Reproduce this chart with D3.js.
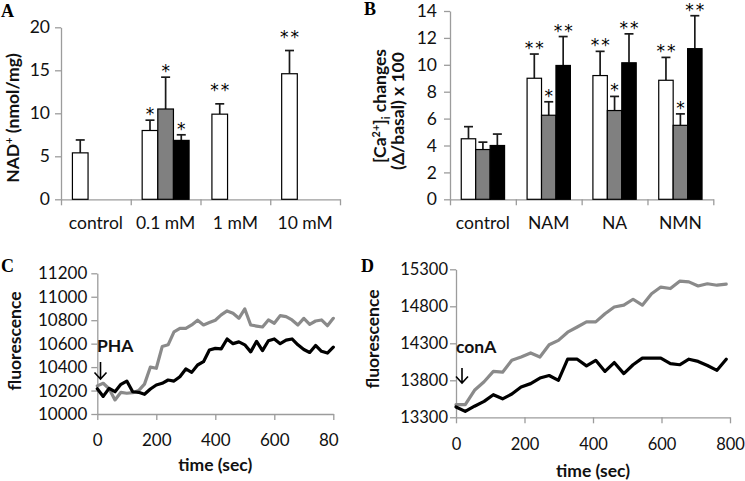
<!DOCTYPE html>
<html>
<head>
<meta charset="utf-8">
<script src="https://cdn.jsdelivr.net/npm/d3@7"></script>
<style>
  body { margin: 0; background: #fff; }
  svg { display: block; }
</style>
</head>
<body>
<svg id="chart" width="745" height="481"></svg>
<script>
// ---------------- DATA ----------------
// Panel A: NAD+ (nmol/mg)
const catsA = ["control", "0.1 mM", "1 mM", "10 mM"];
const aWhite = [5.4, 8.0, 9.9, 14.6];
const aWhiteErr = [1.5, 1.2, 1.2, 2.7];
const aGray = [null, 10.5, null, null];
const aGrayErr = [null, 3.7, null, null];
const aBlack = [null, 6.85, null, null];
const aBlackErr = [null, 0.65, null, null];
const aWhiteSig = ["", "*", "**", "**"];
const aGraySig = ["", "*", "", ""];
const aBlackSig = ["", "*", "", ""];
const aTicks = [0, 5, 10, 15, 20];

// Panel B: [Ca2+]i changes
const catsB = ["control", "NAM", "NA", "NMN"];
const bWhite = [4.5, 9.0, 9.2, 8.85];
const bWhiteErr = [0.9, 1.8, 1.8, 1.7];
const bGray = [3.7, 6.25, 6.6, 5.5];
const bGrayErr = [0.55, 1.0, 1.05, 0.85];
const bBlack = [4.0, 9.95, 10.15, 11.2];
const bBlackErr = [0.85, 2.15, 2.15, 2.45];
const bWhiteSig = ["", "**", "**", "**"];
const bGraySig = ["", "*", "*", "*"];
const bBlackSig = ["", "**", "**", "**"];
const bTicks = [0, 2, 4, 6, 8, 10, 12, 14];

// Panel C: fluorescence, PHA
const timeC = [0, 20, 40, 60, 80, 100, 120, 140, 160, 180, 200, 220, 240, 260, 280, 300, 320, 340, 360, 380,
  400, 420, 440, 460, 480, 500, 520, 540, 560, 580, 600, 620, 640, 660, 680, 700, 720, 740, 760, 780, 800];
const cGray = [10240, 10262, 10215, 10120, 10185, 10177, 10182, 10200, 10255, 10400, 10390, 10575, 10590, 10700,
  10730, 10730, 10760, 10800, 10760, 10780, 10800, 10845, 10879, 10859, 10816, 10896, 10759, 10750, 10742, 10802,
  10774, 10839, 10830, 10802, 10759, 10816, 10765, 10793, 10802, 10753, 10816];
const cBlack = [10215, 10150, 10219, 10190, 10253, 10281, 10190, 10185, 10168, 10213, 10247, 10262, 10290, 10281,
  10318, 10384, 10355, 10418, 10446, 10546, 10560, 10555, 10640, 10600, 10615, 10590, 10530, 10620, 10540, 10625,
  10640, 10600, 10630, 10640, 10590, 10550, 10525, 10585, 10535, 10520, 10570];
const cYTicks = [10000, 10200, 10400, 10600, 10800, 11000, 11200];
const cXTicks = [0, 200, 400, 600, 800];

// Panel D: fluorescence, conA
const timeD = [0, 27, 54, 82, 109, 136, 163, 190, 218, 245, 272, 299, 326, 354, 381, 408, 435, 462, 490, 517,
  544, 571, 598, 626, 653, 680, 707, 734, 762, 789];
const dGray = [13470, 13470, 13665, 13780, 13920, 13910, 14070, 14115, 14170, 14115, 14280, 14340, 14450, 14520,
  14590, 14590, 14700, 14790, 14815, 14895, 14815, 14970, 15060, 15040, 15140, 15130, 15075, 15105, 15085, 15100];
const dBlack = [13440, 13380, 13450, 13515, 13605, 13550, 13615, 13710, 13755, 13830, 13865, 13800, 14085, 14085,
  13995, 14070, 13920, 14040, 13890, 14010, 14100, 14100, 14100, 14025, 14010, 14085, 14055, 14000, 13935, 14085];
const dYTicks = [13300, 13800, 14300, 14800, 15300];
const dXTicks = [0, 200, 400, 600, 800];

// ---------------- DRAWING ----------------
const svg = d3.select("#chart");
const FONT = "Lato, 'Open Sans', 'Liberation Sans', sans-serif";
const STARFONT = "'DejaVu Sans', 'Liberation Sans', sans-serif";
const AXC = "#9c9c9c";
const TXT = "#111";
const TITLEFS = 17.5;

function styleAxis(fs) {
  return sel => {
    sel.select(".domain").attr("stroke", AXC).attr("stroke-width", 1.3);
    sel.selectAll(".tick line").attr("stroke", AXC).attr("stroke-width", 1.3);
    sel.selectAll(".tick text").attr("fill", TXT).style("font-family", FONT).style("font-size", fs + "px");
  };
}

function panelLabel(txt, x, y) {
  svg.append("text").attr("x", x).attr("y", y).text(txt)
    .style("font-family", "'Liberation Serif', 'Times New Roman', serif")
    .style("font-weight", "bold").style("font-size", "18px").attr("fill", "#000");
}

function barPanel(cfg) {
  const g = svg.append("g");
  const x0 = d3.scaleBand().domain(cfg.cats).range([cfg.left, cfg.right]);
  const x1 = d3.scaleBand().domain([0, 1, 2]).range([0, x0.bandwidth()])
    .paddingInner(0).paddingOuter(cfg.outerPad);
  const y = d3.scaleLinear().domain([cfg.ticks[0], cfg.ticks[cfg.ticks.length - 1]]).range([cfg.bottom, cfg.top]);

  g.append("g").attr("transform", `translate(${cfg.left},0)`)
    .call(d3.axisLeft(y).tickValues(cfg.ticks).tickSize(6).tickSizeOuter(0).tickPadding(cfg.yPad))
    .call(styleAxis(cfg.fs));

  const xb = d3.scaleLinear().domain([0, cfg.cats.length]).range([cfg.left, cfg.right]);
  g.append("g").attr("transform", `translate(0,${cfg.bottom})`)
    .call(d3.axisBottom(xb).tickValues(d3.range(cfg.cats.length + 1)).tickFormat("").tickSize(6).tickSizeOuter(0))
    .call(styleAxis(cfg.fs));
  g.append("g").attr("transform", `translate(0,${cfg.bottom})`)
    .call(d3.axisBottom(x0).tickSize(0).tickPadding(cfg.xPad))
    .call(styleAxis(cfg.fs))
    .call(a => a.select(".domain").remove());

  cfg.series.forEach((s, si) => {
    const items = s.vals.map((v, i) => ({ v, e: s.err[i], sig: s.sig[i], cat: cfg.cats[i] }))
      .filter(d => d.v != null);
    const bx = d => x0(d.cat) + x1(si);
    const bw = x1.bandwidth();
    g.selectAll(null).data(items).join("line")
      .attr("x1", d => bx(d) + bw / 2).attr("x2", d => bx(d) + bw / 2)
      .attr("y1", d => y(d.v)).attr("y2", d => y(d.v + d.e))
      .attr("stroke", "#1a1a1a").attr("stroke-width", 1.7);
    g.selectAll(null).data(items).join("line")
      .attr("x1", d => bx(d) + bw / 2 - 4.5).attr("x2", d => bx(d) + bw / 2 + 4.5)
      .attr("y1", d => y(d.v + d.e)).attr("y2", d => y(d.v + d.e))
      .attr("stroke", "#1a1a1a").attr("stroke-width", 1.7);
    g.selectAll(null).data(items).join("rect")
      .attr("x", bx).attr("width", bw)
      .attr("y", d => y(d.v)).attr("height", d => y(0) - y(d.v))
      .attr("fill", s.fill).attr("stroke", "#000").attr("stroke-width", 1.2);
    g.selectAll(null).data(items.filter(d => d.sig)).join("text")
      .attr("x", d => bx(d) + bw / 2 + (d.sig.length > 1 ? 1 : 0))
      .attr("y", d => y(d.v + d.e) - (d.sig.length > 1 ? cfg.dblLift : cfg.sglLift))
      .attr("text-anchor", "middle")
      .style("font-family", STARFONT).style("font-size", "17px")
      .style("letter-spacing", d => d.sig.length > 1 ? "2px" : "0px")
      .attr("fill", "#000")
      .text(d => d.sig);
  });
  return g;
}

function linePanel(cfg) {
  const g = svg.append("g");
  if (cfg.clip) {
    svg.append("clipPath").attr("id", cfg.clip.id).append("rect")
      .attr("x", 0).attr("y", 0).attr("width", cfg.clip.w).attr("height", 481);
    g.attr("clip-path", `url(#${cfg.clip.id})`);
  }
  const x = d3.scaleLinear().domain([cfg.xTicks[0], cfg.xTicks[cfg.xTicks.length - 1]]).range([cfg.left, cfg.right]);
  const y = d3.scaleLinear().domain([cfg.yTicks[0], cfg.yTicks[cfg.yTicks.length - 1]]).range([cfg.bottom, cfg.top]);

  g.append("g").attr("transform", `translate(${cfg.left},0)`)
    .call(d3.axisLeft(y).tickValues(cfg.yTicks).tickSize(6).tickSizeOuter(0).tickPadding(cfg.yPad).tickFormat(d3.format("d")))
    .call(styleAxis(cfg.fs));
  g.append("g").attr("transform", `translate(0,${cfg.bottom})`)
    .call(d3.axisBottom(x).tickValues(cfg.xTicks).tickSize(6).tickSizeOuter(0).tickPadding(cfg.xPad).tickFormat(d3.format("d")))
    .call(styleAxis(cfg.fs));

  const line = d3.line().x((d, i) => x(cfg.time[i])).y(d => y(d)).curve(d3.curveLinear);
  g.append("path").datum(cfg.gray).attr("d", line)
    .attr("fill", "none").attr("stroke", "#8a8a8a").attr("stroke-width", 3.2)
    .attr("stroke-linejoin", "round").attr("stroke-linecap", "round");
  g.append("path").datum(cfg.black).attr("d", line)
    .attr("fill", "none").attr("stroke", "#000").attr("stroke-width", 3.2)
    .attr("stroke-linejoin", "round").attr("stroke-linecap", "round");

  g.append("text").attr("x", (cfg.left + cfg.right) / 2).attr("y", cfg.xTitleY)
    .attr("text-anchor", "middle").text("time (sec)")
    .style("font-family", FONT).style("font-weight", "bold").style("font-size", TITLEFS + "px").attr("fill", TXT);
  g.append("text").attr("transform", `translate(${cfg.yTitleX},${cfg.yTitleY}) rotate(-90)`)
    .attr("text-anchor", "middle").text("fluorescence")
    .style("font-family", FONT).style("font-weight", "bold").style("font-size", TITLEFS + "px").attr("fill", TXT);
  g.append("text").attr("x", cfg.annX).attr("y", cfg.annY).text(cfg.ann)
    .style("font-family", FONT).style("font-weight", "bold").style("font-size", TITLEFS + "px").attr("fill", TXT);
  const ax = cfg.arrowX, at = cfg.arrowTop, ab = cfg.arrowBottom;
  g.append("path")
    .attr("d", `M${ax},${at} L${ax},${ab} M${ax - 6},${ab - 6.5} L${ax},${ab} L${ax + 6},${ab - 6.5}`)
    .attr("fill", "none").attr("stroke", "#000").attr("stroke-width", 1.6);
  return g;
}

// Panel A
barPanel({
  cats: catsA, left: 61, right: 340, top: 27.3, bottom: 199.3, ticks: aTicks, yPad: 5, xPad: 17, fs: 17.5,
  outerPad: 0.73, sglLift: 0, dblLift: 8,
  series: [
    { vals: aWhite, err: aWhiteErr, sig: aWhiteSig, fill: "#fff" },
    { vals: aGray, err: aGrayErr, sig: aGraySig, fill: "#808080" },
    { vals: aBlack, err: aBlackErr, sig: aBlackSig, fill: "#000" }
  ]
});
const aTitle = svg.append("text").attr("transform", "translate(18.5,118) rotate(-90)")
  .attr("text-anchor", "middle")
  .style("font-family", FONT).style("font-weight", "bold").style("font-size", TITLEFS + "px").attr("fill", TXT);
aTitle.append("tspan").text("NAD");
aTitle.append("tspan").text("+").attr("dy", -6).style("font-size", "11px");
aTitle.append("tspan").text(" (nmol/mg)").attr("dy", 6);
panelLabel("A", 1, 17);

// Panel B
barPanel({
  cats: catsB, left: 450, right: 713.3, top: 11, bottom: 199.3, ticks: bTicks, yPad: 7, xPad: 17, fs: 17.5,
  outerPad: 0.78, sglLift: 0, dblLift: 0,
  series: [
    { vals: bWhite, err: bWhiteErr, sig: bWhiteSig, fill: "#fff" },
    { vals: bGray, err: bGrayErr, sig: bGraySig, fill: "#808080" },
    { vals: bBlack, err: bBlackErr, sig: bBlackSig, fill: "#000" }
  ]
});
const bT1 = svg.append("text").attr("transform", "translate(386,106) rotate(-90)")
  .attr("text-anchor", "middle")
  .style("font-family", FONT).style("font-weight", "bold").style("font-size", TITLEFS + "px").attr("fill", TXT);
bT1.append("tspan").text("[Ca");
bT1.append("tspan").text("2+").attr("dy", -6).style("font-size", "11px");
bT1.append("tspan").text("]").attr("dy", 6);
bT1.append("tspan").text("i").attr("dy", 4).style("font-size", "11px");
bT1.append("tspan").text(" changes").attr("dy", -4);
svg.append("text").attr("transform", "translate(404,111) rotate(-90)")
  .attr("text-anchor", "middle").text("(Δ/basal) x 100")
  .style("font-family", FONT).style("font-weight", "bold").style("font-size", TITLEFS + "px").attr("fill", TXT);
panelLabel("B", 364, 15);

// Panel C
linePanel({
  time: timeC, gray: cGray, black: cBlack, xTicks: cXTicks, yTicks: cYTicks, fs: 17,
  left: 97.3, right: 333.3, top: 273.3, bottom: 414, yPad: 4, xPad: 14,
  xTitleY: 471, yTitleX: 21, yTitleY: 341, ann: "PHA", annX: 97, annY: 351.5,
  arrowX: 100.5, arrowTop: 362, arrowBottom: 379, clip: { id: "clipC", w: 339 }
});
panelLabel("C", 1, 271.5);

// Panel D
linePanel({
  time: timeD, gray: dGray, black: dBlack, xTicks: dXTicks, yTicks: dYTicks, fs: 16.5,
  left: 456, right: 730, top: 269.3, bottom: 417.3, yPad: 2, xPad: 15,
  xTitleY: 477, yTitleX: 379, yTitleY: 339, ann: "conA", annX: 456, annY: 353,
  arrowX: 462, arrowTop: 368, arrowBottom: 383
});
panelLabel("D", 361, 271.5);
</script>
</body>
</html>
